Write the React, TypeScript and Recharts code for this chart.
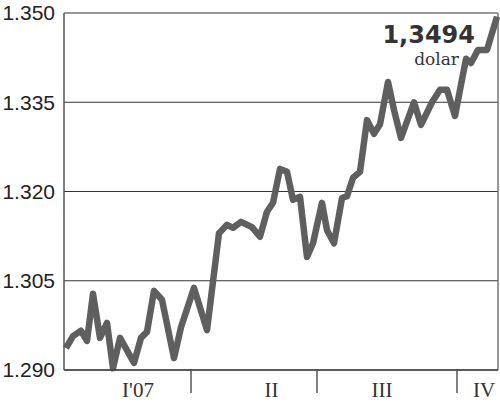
import React from 'react';
import { LineChart, Line, XAxis, YAxis, CartesianGrid, ReferenceLine } from 'recharts';

// session index (trading sessions from start of 2007) and rate
const sessions = [
  2, 9, 17, 23, 29, 36, 43, 49, 56, 70, 77, 83, 90, 98, 110, 117, 130, 143,
  155, 163, 169, 177, 188, 196, 203, 209, 216, 223, 229, 236, 243, 249, 258,
  263, 270, 278, 283, 289, 296, 303, 310, 316, 324, 330, 337, 350, 357, 368,
  376, 383, 391, 402, 407, 414, 423, 433,
];
const rates = [
  1.2937, 1.2957, 1.2966, 1.2949, 1.3028, 1.2954, 1.2979, 1.2903, 1.2954,
  1.2912, 1.2954, 1.2964, 1.3033, 1.3018, 1.292, 1.2972, 1.3038, 1.2967,
  1.313, 1.3144, 1.3139, 1.3149, 1.314, 1.3124, 1.3166, 1.3181, 1.3238,
  1.3233, 1.3186, 1.3191, 1.309, 1.3113, 1.3181, 1.3135, 1.3113, 1.3189,
  1.3192, 1.3223, 1.3233, 1.332, 1.3297, 1.3313, 1.3384, 1.3337, 1.329,
  1.335, 1.3312, 1.335, 1.3371, 1.3371, 1.3327, 1.3423, 1.3416, 1.3438,
  1.3438, 1.3494,
];
const yTicks = [1.29, 1.305, 1.32, 1.335, 1.35];
const quarterBreaks = [127, 253, 393];
const quarterLabels = ["I'07", 'II', 'III', 'IV'];
const quarterLabelPos = [74, 207.5, 318, 420];
const lastSession = 434;

const data = sessions.map((s, i) => ({ s, rate: rates[i] }));

const QuarterTick = (props: any) => {
  const { x, y, payload } = props;
  const v = payload.value;
  if (quarterBreaks.includes(v)) {
    return <line x1={x} x2={x} y1={y} y2={y + 23} stroke="#555" strokeWidth={1.5} />;
  }
  const idx = quarterLabelPos.indexOf(v);
  return (
    <text x={x} y={y + 27} textAnchor="middle" fontFamily="'Liberation Serif', serif" fontSize={21} fill="#333">
      {quarterLabels[idx]}
    </text>
  );
};

export default function App() {
  return (
    <div style={{ position: 'absolute', left: 0, top: 0, width: 500, height: 402, background: '#fff' }}>
      <LineChart width={500} height={402} data={data} margin={{ top: 13, right: 2, left: 0, bottom: 0 }}>
        <CartesianGrid vertical={false} stroke="#333" strokeWidth={1.2} />
        <XAxis
          dataKey="s"
          type="number"
          domain={[0, lastSession]}
          ticks={[...quarterBreaks, ...quarterLabelPos]}
          interval={0}
          height={32}
          tickSize={0}
          tickMargin={0}
          tickLine={false}
          axisLine={{ stroke: '#444', strokeWidth: 1.5 }}
          tick={<QuarterTick />}
        />
        <YAxis
          domain={[1.29, 1.35]}
          ticks={yTicks}
          width={64}
          tickSize={0}
          tickMargin={9}
          tickLine={false}
          axisLine={{ stroke: '#555', strokeWidth: 1.5 }}
          tickFormatter={(v: number) => v.toFixed(3)}
          tick={{ fill: '#222', fontSize: 21, fontFamily: "'Liberation Sans', sans-serif" }}
        />
        <ReferenceLine x={lastSession} stroke="#777" strokeWidth={1.5} />
        <Line
          dataKey="rate"
          type="linear"
          stroke="#5f5f5f"
          strokeWidth={6.5}
          strokeLinejoin="round"
          dot={false}
          isAnimationActive={false}
        />
      </LineChart>
      <svg width={500} height={402} style={{ position: 'absolute', left: 0, top: 0, pointerEvents: 'none' }}>
        <text x={475} y={43} textAnchor="end" fontFamily="'DejaVu Sans', sans-serif" fontWeight="bold" fontSize={24} fill="#333">
          1,3494
        </text>
        <text x={459} y={65} textAnchor="end" fontFamily="'DejaVu Serif', serif" fontSize={17} fill="#333">
          dolar
        </text>
      </svg>
    </div>
  );
}
